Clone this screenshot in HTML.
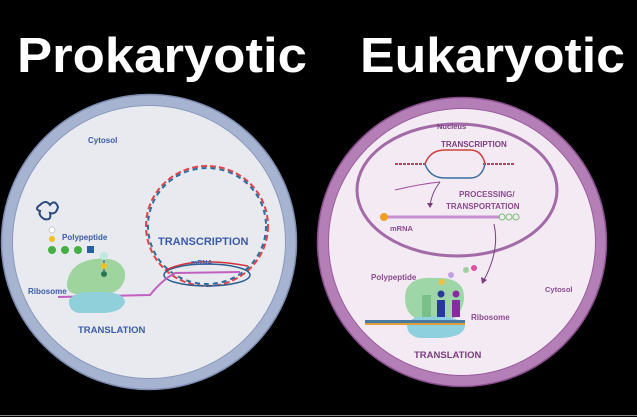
<!DOCTYPE html>
<html><head><meta charset="utf-8"><style>
html,body{margin:0;padding:0;background:#000;width:637px;height:417px;overflow:hidden}
svg{display:block}
text{font-family:"Liberation Sans",sans-serif;font-weight:bold}
</style></head><body>
<svg width="637" height="417" viewBox="0 0 637 417" xmlns="http://www.w3.org/2000/svg">
<rect width="637" height="417" fill="#000"/>
<line x1="0" y1="415.5" x2="637" y2="415.5" stroke="#888" stroke-width="1"/>
<text x="17" y="72" font-size="49" fill="#fff" textLength="290" lengthAdjust="spacingAndGlyphs">Prokaryotic</text>
<text x="360" y="72" font-size="49" fill="#fff" textLength="265" lengthAdjust="spacingAndGlyphs">Eukaryotic</text>

<!-- Left cell -->
<circle cx="149" cy="242" r="142" fill="#e9eaf0" stroke="#a6b4d2" stroke-width="11"/>
<circle cx="149" cy="242" r="147.5" fill="none" stroke="#7d8cb0" stroke-width="1.5"/>
<circle cx="149" cy="242" r="136.5" fill="none" stroke="#8a98bb" stroke-width="1"/>
<text x="88" y="143" font-size="8" fill="#3b5aa8">Cytosol</text>
<!-- DNA loop -->
<ellipse cx="207" cy="226" rx="61" ry="60" fill="none" stroke="#e0434a" stroke-width="2" stroke-dasharray="6 3"/>
<ellipse cx="207" cy="226" rx="59" ry="58" fill="none" stroke="#2a6fa0" stroke-width="2" stroke-dasharray="5 4"/>
<ellipse cx="207" cy="275" rx="43" ry="11" fill="none" stroke="#2a5f90" stroke-width="1.5"/>
<path d="M166 270 Q195 256 248 266" fill="none" stroke="#d0343a" stroke-width="1.5"/>
<path d="M58 297 L150 295 Q162 280 175 273 L240 272" fill="none" stroke="#c060c0" stroke-width="2"/>
<text x="158" y="245" font-size="11" fill="#3b5aa8">TRANSCRIPTION</text>
<text x="191" y="265" font-size="7" fill="#3b5aa8">mRNA</text>
<!-- ribosome -->
<path d="M67 283 Q70 262 95 259 Q120 256 125 272 Q126 290 108 294 L75 294 Q66 292 67 283Z" fill="#9fd49f"/>
<path d="M69 300 Q75 291 95 292 Q124 291 125 302 Q122 313 100 313 L78 313 Q68 310 69 300Z" fill="#8fd0db"/>
<line x1="104" y1="258" x2="104" y2="275" stroke="#448" stroke-width="1"/>
<circle cx="104" cy="256" r="4" fill="#bfe8e3"/>
<circle cx="104" cy="266" r="3" fill="#f0c020"/>
<circle cx="104" cy="274" r="3" fill="#2a7a5a"/>
<g fill="#44b044"><circle cx="52" cy="250" r="4"/><circle cx="65" cy="250" r="4"/><circle cx="78" cy="250" r="4"/></g>
<rect x="87" y="246" width="7" height="7" fill="#2a5fa0"/>
<circle cx="52" cy="239" r="3" fill="#f0c020"/>
<circle cx="52" cy="230" r="3" fill="#fff" stroke="#999" stroke-width="0.5"/>
<path d="M40 205 q6 -6 10 0 q5 -6 8 2 q-2 8 -8 6 q2 8 -6 6 q-6 -4 -4 -8 q-6 -2 0 -6z" fill="none" stroke="#2a4a80" stroke-width="2"/>
<text x="62" y="240" font-size="8" fill="#3b5aa8">Polypeptide</text>
<text x="28" y="294" font-size="8" fill="#3b5aa8">Ribosome</text>
<text x="78" y="333" font-size="9.5" fill="#3b5aa8">TRANSLATION</text>

<!-- Right cell -->
<circle cx="462" cy="242" r="139" fill="#f4eaf3" stroke="#b47fb6" stroke-width="11"/>
<circle cx="462" cy="242" r="144.5" fill="none" stroke="#8a4e8e" stroke-width="1.5"/>
<circle cx="462" cy="242" r="133.5" fill="none" stroke="#9a5c9e" stroke-width="1"/>
<ellipse cx="457" cy="190" rx="100" ry="66" fill="none" stroke="#a26aa6" stroke-width="3"/>
<text x="437" y="129" font-size="7.5" fill="#7a3d80">Nucleus</text>
<text x="441" y="147" font-size="8" fill="#7a3d80">TRANSCRIPTION</text>
<path d="M395 164 L425 164 M483 164 L515 164" stroke="#c04060" stroke-width="2" stroke-dasharray="3 1"/>
<path d="M425 164 Q430 150 445 150 L470 150 Q482 150 485 164" fill="none" stroke="#d04040" stroke-width="1.5"/>
<path d="M425 164 Q430 178 445 178 L470 178 Q482 178 485 164" fill="none" stroke="#3a70a0" stroke-width="1.5"/>
<path d="M395 190 Q420 184 440 182" fill="none" stroke="#a050a0" stroke-width="1"/>
<path d="M440 182 Q432 192 430 205" fill="none" stroke="#7a3d80" stroke-width="1"/>
<polygon points="427,203 433,203 430,208" fill="#7a3d80"/>
<text x="459" y="197" font-size="8" fill="#8a4a8e">PROCESSING/</text>
<text x="446" y="209" font-size="8" fill="#8a4a8e">TRANSPORTATION</text>
<line x1="383" y1="217" x2="500" y2="217" stroke="#c890d0" stroke-width="3"/>
<circle cx="384" cy="217" r="4" fill="#f0a020"/>
<g fill="none" stroke="#7ac07a"><circle cx="502" cy="217" r="3"/><circle cx="509" cy="217" r="3"/><circle cx="516" cy="217" r="3"/></g>
<text x="390" y="231" font-size="7.5" fill="#8a4a8e">mRNA</text>
<path d="M494 224 Q500 250 484 280" fill="none" stroke="#7a3d80" stroke-width="1"/>
<polygon points="481,277 487,280 482,284" fill="#7a3d80"/>
<!-- ribosome -->
<path d="M406 290 Q412 276 435 278 Q458 277 463 290 Q467 305 455 318 L415 318 Q402 310 406 290Z" fill="#9fd6a7"/>
<path d="M407 325 Q410 316 430 316 Q455 315 465 325 Q465 337 440 338 L420 338 Q407 336 407 325Z" fill="#8fd0df"/>
<rect x="422" y="295" width="9" height="22" fill="#78c08a"/>
<rect x="437" y="300" width="8" height="17" fill="#2a3a9a"/><circle cx="441" cy="294" r="3.5" fill="#2a3a9a"/>
<rect x="452" y="300" width="8" height="17" fill="#8a2aa0"/><circle cx="456" cy="294" r="3.5" fill="#8a2aa0"/>
<rect x="365" y="320" width="100" height="5" fill="#4a7aa0"/>
<rect x="365" y="323" width="100" height="2" fill="#e0a040"/>
<circle cx="442" cy="282" r="3" fill="#f0c040"/><circle cx="451" cy="275" r="3" fill="#c0a0e0"/><circle cx="466" cy="270" r="3" fill="#a0d0a0"/><circle cx="474" cy="268" r="3" fill="#e050a0"/>
<text x="371" y="280" font-size="8" fill="#8a4a8e">Polypeptide</text>
<text x="471" y="320" font-size="8" fill="#8a4a8e">Ribosome</text>
<text x="545" y="292" font-size="7.5" fill="#8a4a8e">Cytosol</text>
<text x="414" y="358" font-size="9.5" fill="#7a3d80">TRANSLATION</text>
</svg>
</body></html>
